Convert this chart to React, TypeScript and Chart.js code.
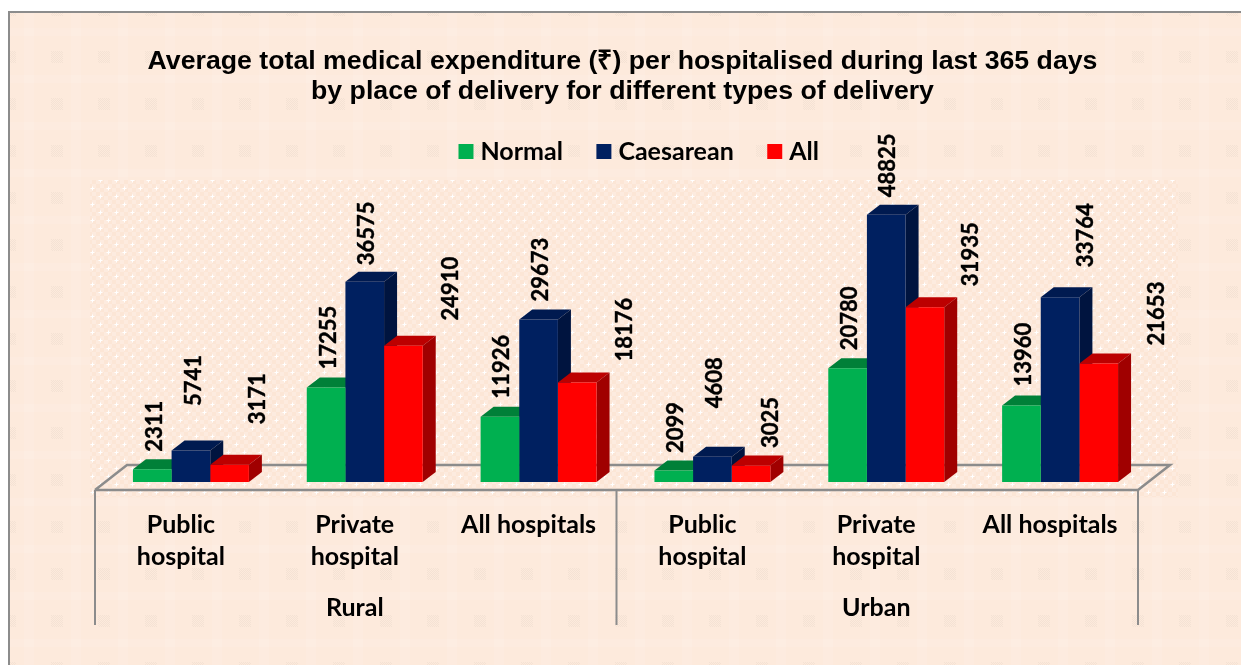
import React, { useEffect, useRef } from "react";
import { Chart, registerables } from "chart.js";

Chart.register(...registerables);

const categories = [
  ["Public", "hospital"],
  ["Private", "hospital"],
  "All hospitals",
  ["Public", "hospital"],
  ["Private", "hospital"],
  "All hospitals",
];
const sectors = ["Rural", "Urban"];
const titleLines = [
  "Average total medical expenditure (₹) per hospitalised during last 365 days",
  "by place of delivery for different types of delivery",
];

const normal = [2311, 17255, 11926, 2099, 20780, 13960];
const caesarean = [5741, 36575, 29673, 4608, 48825, 33764];
const allTypes = [3171, 24910, 18176, 3025, 31935, 21653];

// hand placement of the rotated value labels, relative to each bar's top
const labelShift = [
  [[3, -43], [3, -50], [2, -50], [2, -43], [2, -50], [2.5, -51]],
  [[3, -70], [2, -48.5], [2, -50], [2, -74], [2, -49.5], [26, -62]],
  [[28.5, -66], [47.5, -57], [47.5, -53], [19.5, -43], [46.5, -53], [58, -50]],
];

const DEPTH_X = 13;
const DEPTH_Y = 10;
const LABEL_FONT = "bold 22px Lato";

const tops = ["#008038", "#001A50", "#BC0000"];
const sides = ["#006B32", "#00143F", "#A00000"];
const fronts = ["#00B050", "#002060", "#FF0000"];

function makeDotPattern(ctx: CanvasRenderingContext2D) {
  const c = document.createElement("canvas");
  c.width = 16;
  c.height = 16;
  const g = c.getContext("2d")!;
  g.fillStyle = "#FDEBDF";
  g.fillRect(0, 0, 16, 16);
  g.fillStyle = "#FCE6D6";
  for (let y = 0; y < 16; y += 4) {
    for (let x = 0; x < 16; x += 4) {
      if ((x + y) % 8 === 0) g.fillRect(x, y, 4, 4);
    }
  }
  for (const [x, y] of [[4, 4], [12, 12]]) {
    g.fillStyle = "rgba(255,255,255,0.5)";
    g.fillRect(x - 2, y, 5, 1);
    g.fillRect(x, y - 2, 1, 5);
    g.fillStyle = "#FFFFFF";
    g.fillRect(x - 1, y, 3, 1);
    g.fillRect(x, y - 1, 1, 3);
  }
  return ctx.createPattern(c, "repeat")!;
}

function makePatchPattern(ctx: CanvasRenderingContext2D) {
  const c = document.createElement("canvas");
  c.width = 47;
  c.height = 47;
  const g = c.getContext("2d")!;
  g.fillStyle = "rgba(255,255,255,0.09)";
  g.fillRect(24, 0, 10, 47);
  g.fillRect(0, 28, 47, 8);
  g.fillStyle = "rgba(190,180,165,0.14)";
  for (let y = 0; y < 12; y += 1) {
    for (let x = 0; x < 12; x += 1) {
      if ((x + y) % 2 === 0) g.fillRect(x + 4, y + 4, 1, 1);
    }
  }
  return ctx.createPattern(c, "repeat")!;
}

const backdrop = {
  id: "backdrop",
  beforeDraw(chart: any) {
    const { ctx, width, height } = chart;
    ctx.save();
    ctx.fillStyle = "#FDEADC";
    ctx.fillRect(9, 12, width - 9, height - 12);
    ctx.fillStyle = makePatchPattern(ctx);
    ctx.fillRect(10, 13, width - 10, height - 13);
    ctx.fillStyle = makeDotPattern(ctx);
    ctx.fillRect(90, 180, 1088, 317);
    ctx.fillStyle = "#8C8C8C";
    ctx.fillRect(8, 11, width - 8, 2);
    ctx.fillRect(8, 11, 2, height - 11);
    ctx.restore();
  },
};

const floorAndSides = {
  id: "floorAndSides",
  beforeDatasetsDraw(chart: any) {
    const { ctx } = chart;
    const x = chart.scales.x;
    const base = chart.scales.y.getPixelForValue(0);
    const frontY = base + 8;
    const backY = base - 17;
    const l = x.left - 9;
    const r = x.right - 9;
    const m = (l + r) / 2;
    ctx.save();
    ctx.strokeStyle = "#8C8C8C";
    ctx.lineWidth = 2.5;
    ctx.beginPath();
    ctx.moveTo(l, frontY);
    ctx.lineTo(r, frontY);
    ctx.lineTo(r + 32, backY);
    ctx.lineTo(l + 32, backY);
    ctx.lineTo(l, frontY);
    ctx.stroke();
    ctx.lineWidth = 2;
    ctx.beginPath();
    for (const vx of [l, m, r]) {
      ctx.moveTo(vx, frontY);
      ctx.lineTo(vx, 625);
    }
    ctx.stroke();
    chart.data.datasets.forEach((_: any, d: number) => {
      chart.getDatasetMeta(d).data.forEach((bar: any) => {
        const { x: cx, y, base: b, width: w } = bar.getProps(["x", "y", "base", "width"], true);
        const a = cx - w / 2;
        const e = cx + w / 2;
        ctx.fillStyle = tops[d];
        ctx.beginPath();
        ctx.moveTo(a, y);
        ctx.lineTo(a + DEPTH_X, y - DEPTH_Y);
        ctx.lineTo(e + DEPTH_X, y - DEPTH_Y);
        ctx.lineTo(e, y);
        ctx.closePath();
        ctx.fill();
        ctx.fillStyle = sides[d];
        ctx.beginPath();
        ctx.moveTo(e, y);
        ctx.lineTo(e + DEPTH_X, y - DEPTH_Y);
        ctx.lineTo(e + DEPTH_X, b - DEPTH_Y);
        ctx.lineTo(e, b);
        ctx.closePath();
        ctx.fill();
      });
    });
    ctx.restore();
  },
  afterDatasetsDraw(chart: any) {
    const { ctx } = chart;
    ctx.save();
    ctx.fillStyle = "#000";
    ctx.strokeStyle = "#000";
    ctx.lineWidth = 0.4;
    ctx.textAlign = "center";
    ctx.textBaseline = "middle";
    ctx.font = LABEL_FONT;
    chart.data.datasets.forEach((ds: any, d: number) => {
      chart.getDatasetMeta(d).data.forEach((bar: any, i: number) => {
        const { x: cx, y } = bar.getProps(["x", "y"], true);
        const [dx, dy] = labelShift[d][i];
        ctx.save();
        ctx.translate(cx + dx, y + dy);
        ctx.rotate(-Math.PI / 2);
        ctx.fillText(String(ds.data[i]), 0, 0);
        ctx.strokeText(String(ds.data[i]), 0, 0);
        ctx.restore();
      });
    });
    const x = chart.scales.x;
    ctx.font = "bold 25px Lato";
    sectors.forEach((s, k) => {
      ctx.fillText(s, x.getPixelForValue(3 * k + 1) - 10, 608);
    });
    ctx.restore();
  },
};

const nudgeBlocks = {
  id: "nudgeBlocks",
  afterLayout(chart: any) {
    if (chart.titleBlock) {
      chart.titleBlock.left -= 3;
      chart.titleBlock.right -= 3;
    }
    if (chart.legend) {
      chart.legend.left += 16;
      chart.legend.right += 16;
      chart.legend.top -= 7;
      chart.legend.bottom -= 7;
    }
  },
};

export default function App() {
  const ref = useRef<HTMLCanvasElement>(null);
  useEffect(() => {
    const chart = new Chart(ref.current!, {
      type: "bar",
      data: {
        labels: categories as any,
        datasets: [
          { label: "Normal", data: normal, backgroundColor: fronts[0] },
          { label: "Caesarean", data: caesarean, backgroundColor: fronts[1] },
          { label: "All", data: allTypes, backgroundColor: fronts[2] },
        ],
      },
      options: {
        responsive: false,
        animation: false,
        layout: { padding: { left: 104, right: 94, top: 47, bottom: 0 } },
        datasets: { bar: { categoryPercentage: 0.667, barPercentage: 1 } },
        plugins: {
          tooltip: { enabled: false },
          title: {
            display: true,
            text: titleLines,
            color: "#000",
            font: { family: "'Liberation Sans'", size: 26.7, weight: "bold", lineHeight: 1.124 },
            padding: { top: 0, bottom: 0 },
          },
          legend: {
            position: "top",
            labels: {
              color: "#000",
              font: { family: "Lato", size: 25, weight: "bold" },
              boxWidth: 4,
              boxHeight: 4,
              padding: 39,
              generateLabels: (c: any) =>
                c.data.datasets.map((ds: any, i: number) => ({
                  text: ds.label,
                  fillStyle: ds.backgroundColor,
                  strokeStyle: ds.backgroundColor,
                  lineWidth: 11,
                  fontColor: "#000",
                  datasetIndex: i,
                  hidden: false,
                })),
            },
          },
        },
        scales: {
          x: {
            grid: { display: false },
            border: { display: false },
            afterFit: (s: any) => {
              s.height = 183;
            },
            ticks: {
              color: "#000",
              font: { family: "Lato", size: 25, weight: "bold", lineHeight: 1.28 },
              padding: 19,
              labelOffset: -10,
              maxRotation: 0,
              autoSkip: false,
            },
          },
          y: { display: false, min: 0, max: 55000 },
        },
      } as any,
      plugins: [backdrop, floorAndSides, nudgeBlocks],
    });
    return () => chart.destroy();
  }, []);
  return (
    <canvas
      ref={ref}
      width={1241}
      height={665}
      style={{ position: "absolute", left: 0, top: 0, display: "block" }}
    />
  );
}
